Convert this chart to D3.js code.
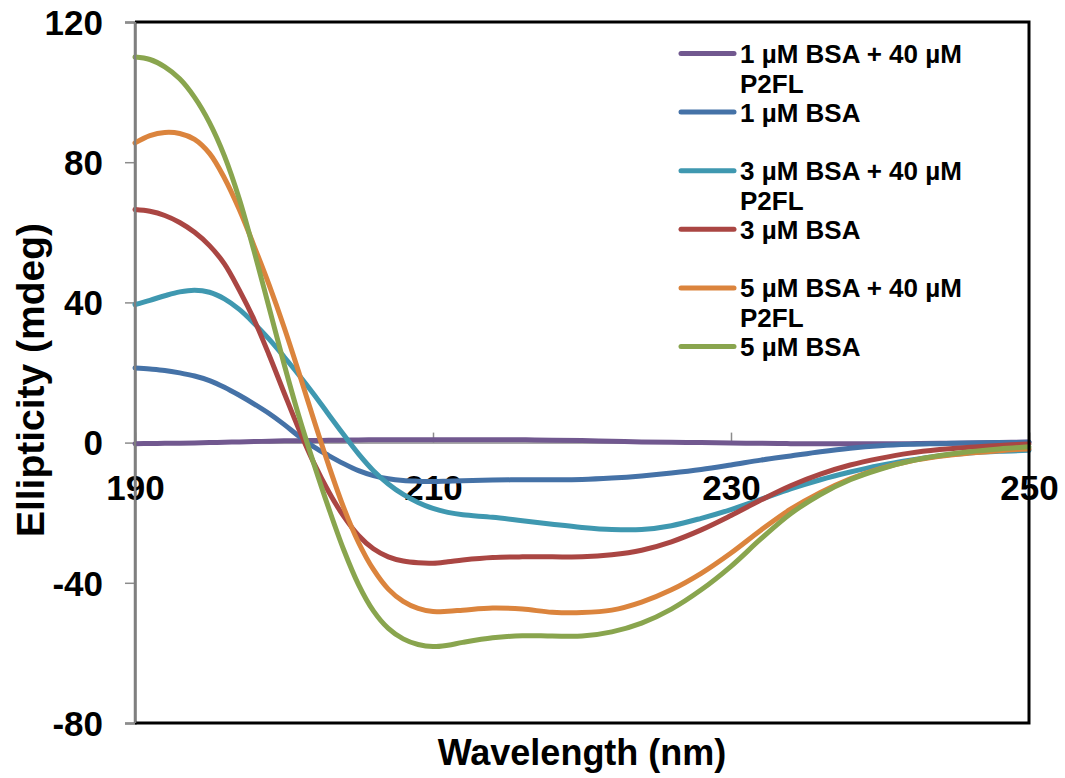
<!DOCTYPE html>
<html>
<head>
<meta charset="utf-8">
<script src="https://cdn.jsdelivr.net/npm/d3@7/dist/d3.min.js"></script>
<style>
  html, body { margin: 0; padding: 0; background: #ffffff; }
  svg text { font-family: "Liberation Sans", Arial, Helvetica, sans-serif; font-weight: bold; fill: #000; }
</style>
</head>
<body>
<svg id="chart" width="1065" height="778"></svg>
<script>
// ---------------- data ----------------
const wavelengths = [190,191,192,193,194,195,196,197,198,199,200,201,202,203,204,205,206,207,208,209,210,211,212,
                     214,216,218,220,222,224,226,228,230,232,234,236,238,240,242,244,246,248,250];

const bsa1P2FL = [-0.3,-0.25,-0.2,-0.15,-0.1,0,0.1,0.2,0.3,0.4,0.5,0.55,0.6,0.65,0.7,0.75,0.8,0.8,0.8,0.8,0.8,0.8,0.8,
                  0.8,0.8,0.7,0.6,0.4,0.2,0.1,0,-0.1,-0.2,-0.3,-0.3,-0.3,-0.3,-0.3,-0.2,-0.1,0,0.2];
const bsa1 = [21.3,21,20.6,19.9,19,17.7,15.8,13.5,11,8.3,5.2,1.8,-1.2,-3.7,-6,-8,-9.4,-10.3,-10.8,-11,-11.1,-11,-10.9,
              -10.7,-10.6,-10.6,-10.5,-10.1,-9.5,-8.7,-7.7,-6.4,-5,-3.8,-2.6,-1.6,-0.9,-0.5,-0.3,-0.1,0,0.1];
const bsa3P2FL = [39.4,40.6,41.9,43,43.5,42.9,41,38,34,29.5,24.5,19.3,13.8,8,2.3,-3.2,-8,-11.8,-14.8,-17.1,-18.8,-19.9,-20.6,
                  -21.3,-22.3,-23.3,-24.2,-24.8,-24.8,-23.7,-21.6,-19.1,-16.2,-13.2,-10.6,-8.4,-6.5,-5,-3.8,-3,-2.5,-2.2];
const bsa3 = [66.5,66,64.8,62.8,60,56.2,51,43.5,35,25,14.3,3.8,-5.8,-14,-21,-26.5,-30.3,-32.6,-33.8,-34.3,-34.4,-34,-33.5,
              -32.8,-32.6,-32.6,-32.6,-32,-30.7,-28.3,-24.9,-20.8,-16.4,-12.3,-9,-6.4,-4.5,-3,-2,-1.3,-0.8,-0.4];
const bsa5P2FL = [85.5,87.6,88.5,88.2,86.5,82.5,75.5,66.5,56,45,33,20,6.5,-6.5,-18.5,-28.5,-36.2,-41.8,-45.3,-47.3,-48.2,-48.1,-47.8,
                  -47.2,-47.5,-48.4,-48.5,-47.8,-45.5,-42,-37.3,-31.5,-25,-19,-14.2,-10.3,-7.4,-5.3,-3.9,-3,-2.3,-1.8];
const bsa5 = [110,109.3,107.2,103.8,98.5,91.3,81.8,69.5,54.5,38.5,22.5,7.5,-6,-18.7,-30.5,-40.5,-48,-53,-56,-57.6,-58.2,-57.8,-57,
              -55.7,-55.1,-55.2,-55.2,-54,-51.5,-47.5,-42,-35.3,-27.5,-20.3,-14.8,-10.6,-7.6,-5.3,-3.7,-2.6,-1.8,-1.2];

const seriesNames = [["1 µM BSA + 40 µM", "P2FL"], ["1 µM BSA"], ["3 µM BSA + 40 µM", "P2FL"], ["3 µM BSA"],
                     ["5 µM BSA + 40 µM", "P2FL"], ["5 µM BSA"]];
const seriesValues = [bsa1P2FL, bsa1, bsa3P2FL, bsa3, bsa5P2FL, bsa5];
const seriesColors = ["#71588F", "#4572A7", "#3F98B0", "#AA4643", "#DB843D", "#89A54E"];

const xTicks = [190, 210, 230, 250];
const yTicks = [-80, -40, 0, 40, 80, 120];
const xTitle = "Wavelength (nm)";
const yTitle = "Ellipticity (mdeg)";

// ---------------- layout ----------------
const svg = d3.select("#chart");
const plot = { left: 135, right: 1029, top: 22, bottom: 723 };

const x = d3.scaleLinear().domain([190, 250]).range([plot.left, plot.right]);
const y = d3.scaleLinear().domain([-80, 120]).range([plot.bottom, plot.top]);
const fmt = d => String(d);

// Y axis (left, grey)
const yAxis = svg.append("g").attr("transform", `translate(${plot.left},0)`)
  .call(d3.axisLeft(y).tickValues(yTicks).tickSize(10).tickPadding(22).tickFormat(fmt));
yAxis.select(".domain").attr("stroke", "#7f7f7f").attr("stroke-width", 2.5);
yAxis.selectAll(".tick line").attr("stroke", "#8c8c8c").attr("stroke-width", 1.5);
yAxis.selectAll(".tick text").attr("font-size", 35).attr("font-family", null).attr("dy", "0.35em");

// X axis at y = 0, ticks pointing up, labels below
const xAxis = svg.append("g").attr("transform", `translate(0,${y(0)})`)
  .call(d3.axisTop(x).tickValues(xTicks).tickSize(10).tickFormat(fmt));
xAxis.select(".domain").attr("stroke", "#8c8c8c").attr("stroke-width", 1.5);
xAxis.selectAll(".tick line").attr("stroke", "#8c8c8c").attr("stroke-width", 1.5);
xAxis.selectAll(".tick text").attr("font-size", 35).attr("font-family", null)
  .attr("y", 57).attr("dy", 0);

// Lines
const line = d3.line()
  .x((d, i) => x(wavelengths[i]))
  .y(d => y(d))
  .curve(d3.curveCatmullRom.alpha(0.5));

svg.append("g").selectAll("path").data(seriesValues).join("path")
  .attr("d", d => line(d))
  .attr("fill", "none")
  .attr("stroke", (d, i) => seriesColors[i])
  .attr("stroke-width", 5)
  .attr("stroke-linejoin", "round")
  .attr("stroke-linecap", "round");

// Plot border (top, right, bottom) black
svg.append("path")
  .attr("d", `M${plot.left},${plot.top}H${plot.right}V${plot.bottom}H${plot.left}`)
  .attr("fill", "none").attr("stroke", "#000").attr("stroke-width", 3);
// redraw left axis line on top
svg.append("line").attr("x1", plot.left).attr("x2", plot.left).attr("y1", plot.top).attr("y2", plot.bottom)
  .attr("stroke", "#7f7f7f").attr("stroke-width", 2.5);

// Axis titles
svg.append("text").attr("x", 582).attr("y", 765).attr("text-anchor", "middle")
  .attr("font-size", 36).text(xTitle);
svg.append("text").attr("transform", "translate(44,380) rotate(-90)").attr("text-anchor", "middle")
  .attr("font-size", 39).text(yTitle);

// Legend
const legendY = d3.scaleLinear().domain([0, 5]).range([53.5, 346.5]);
const lg = svg.append("g");
seriesNames.forEach((lines, i) => {
  const cy = legendY(i);
  lg.append("line").attr("x1", 681).attr("x2", 734).attr("y1", cy).attr("y2", cy)
    .attr("stroke", seriesColors[i]).attr("stroke-width", 5).attr("stroke-linecap", "round");
  const t = lg.append("text").attr("x", 740).attr("y", cy + 9.5).attr("font-size", 26);
  lines.forEach((s, j) => {
    t.append("tspan").attr("x", 740).attr("dy", j === 0 ? 0 : 29.5).text(s);
  });
});
</script>
</body>
</html>
